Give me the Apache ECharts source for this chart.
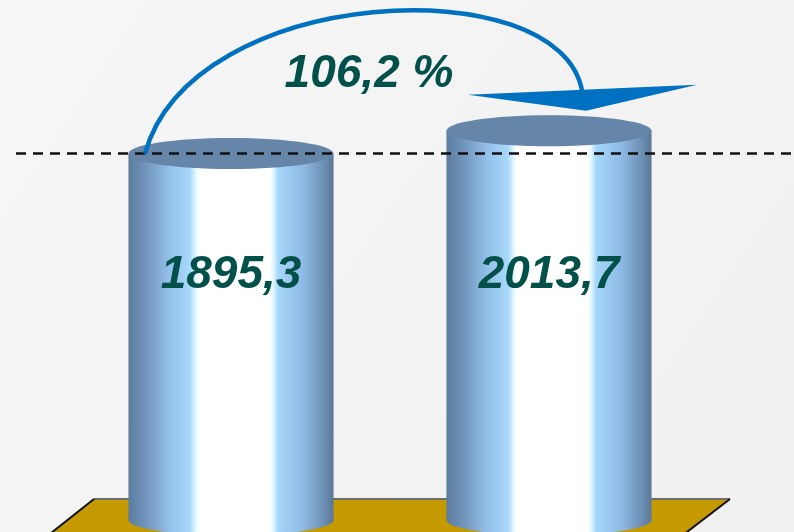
<!DOCTYPE html>
<html>
<head>
<meta charset="utf-8">
<script src="https://cdn.jsdelivr.net/npm/echarts@6/dist/echarts.min.js"></script>
<style>
  html, body { margin: 0; padding: 0; }
  #main { width: 794px; height: 532px; }
</style>
</head>
<body>
<div id="main"></div>
<script>
// data
var categories = ['1', '2'];
var values = [1895.3, 2013.7];
var growthPercent = 106.2;

var textColor = '#01504A';
var labelFont = 'italic bold 46px "Liberation Sans", Arial, sans-serif';

function fmt(v) {
  return String(v).replace('.', ',');
}

var bodyStops = [
  { offset: 0, color: '#5B7C9E' },
  { offset: 0.08, color: '#7093BA' },
  { offset: 0.2, color: '#94C0EA' },
  { offset: 0.3, color: '#A8D8FA' },
  { offset: 0.33, color: '#E6FAFF' },
  { offset: 0.345, color: '#FFFFFF' },
  { offset: 0.69, color: '#FFFFFF' },
  { offset: 0.705, color: '#E0F8FF' },
  { offset: 0.73, color: '#A6D6FA' },
  { offset: 0.85, color: '#8FBBE6' },
  { offset: 0.95, color: '#6E90B4' },
  { offset: 1, color: '#5A7898' }
];

function renderCylinder(params, api) {
  var idx = api.value(0);
  var top = api.coord([idx, api.value(1)]);
  var base = api.coord([idx, 0]);
  var w = api.size([1, 0])[0] * 0.645;
  var rx = w / 2, ry = 15.5;
  var grad = new echarts.graphic.LinearGradient(0, 0, 1, 0, bodyStops);
  return {
    type: 'group',
    children: [
      { type: 'ellipse', shape: { cx: top[0], cy: base[1], rx: rx, ry: ry }, style: { fill: grad } },
      { type: 'rect', shape: { x: top[0] - rx, y: top[1], width: w, height: base[1] - top[1] }, style: { fill: grad } },
      { type: 'ellipse', shape: { cx: top[0], cy: top[1], rx: rx, ry: ry }, style: { fill: '#6686A9' } },
      {
        type: 'text',
        x: top[0], y: base[1] - 245,
        style: { text: fmt(values[idx]), font: labelFont, fill: textColor, align: 'center', verticalAlign: 'middle' }
      }
    ]
  };
}

function renderOverlay(params, api) {
  var c0 = api.coord([0, values[0]]);
  var c1 = api.coord([1, values[1]]);
  var s = [c0[0] - 86, c0[1]];
  var e = [c1[0] + 33, c1[1] - 40];
  var midTop = (c0[1] + c1[1]) / 2;
  return {
    type: 'group',
    children: [
      {
        type: 'line',
        shape: { x1: 16, y1: c0[1], x2: 794, y2: c0[1] },
        style: { stroke: '#111', lineWidth: 2.5, lineDash: [10, 7] }
      },
      {
        type: 'bezierCurve',
        shape: {
          x1: s[0], y1: s[1], x2: e[0], y2: e[1],
          cpx1: s[0] + 47, cpy1: s[1] - 170,
          cpx2: e[0] - 22, cpy2: e[1] - 123
        },
        style: { stroke: '#0070C0', lineWidth: 4.5, fill: null }
      },
      {
        type: 'polygon',
        shape: { points: [[c1[0] - 81, c1[1] - 36], [c1[0] + 148, c1[1] - 46], [c1[0] + 37, c1[1] - 20]] },
        style: { fill: '#0070C0' }
      },
      {
        type: 'text',
        x: (c0[0] + c1[0]) / 2 - 21, y: midTop - 68,
        style: { text: fmt(growthPercent) + ' %', font: labelFont, fill: textColor, align: 'center', verticalAlign: 'middle' }
      }
    ]
  };
}

var myChart = echarts.init(document.getElementById('main'));

var option = {
  animation: false,
  backgroundColor: new echarts.graphic.LinearGradient(0, 0, 1, 1, [
    { offset: 0, color: '#F6F6F6' },
    { offset: 1, color: '#F0F0F0' }
  ]),
  grid: { left: 72, right: 86, top: 56, bottom: 12 },
  xAxis: { type: 'category', data: categories, show: false },
  yAxis: { type: 'value', min: 0, max: 2400, show: false },
  graphic: [
    {
      type: 'polygon', z: 0,
      shape: { points: [[94, 499], [730, 499], [670, 545], [36, 545]] },
      style: { fill: '#C49A00' }
    },
    {
      type: 'line', z: 1,
      shape: { x1: 94, y1: 499, x2: 730, y2: 499 },
      style: { stroke: '#6E6E6E', lineWidth: 2 }
    },
    {
      type: 'polyline', z: 1,
      shape: { points: [[94, 499], [36, 545]] },
      style: { stroke: '#111', lineWidth: 2 }
    },
    {
      type: 'polyline', z: 1,
      shape: { points: [[730, 499], [670, 545]] },
      style: { stroke: '#111', lineWidth: 2 }
    }
  ],
  series: [
    {
      type: 'custom',
      z: 5,
      renderItem: renderCylinder,
      data: values.map(function (v, i) { return [i, v]; })
    },
    {
      type: 'custom',
      z: 6,
      renderItem: renderOverlay,
      data: [[0, values[0]]]
    }
  ]
};

myChart.setOption(option);
</script>
</body>
</html>
